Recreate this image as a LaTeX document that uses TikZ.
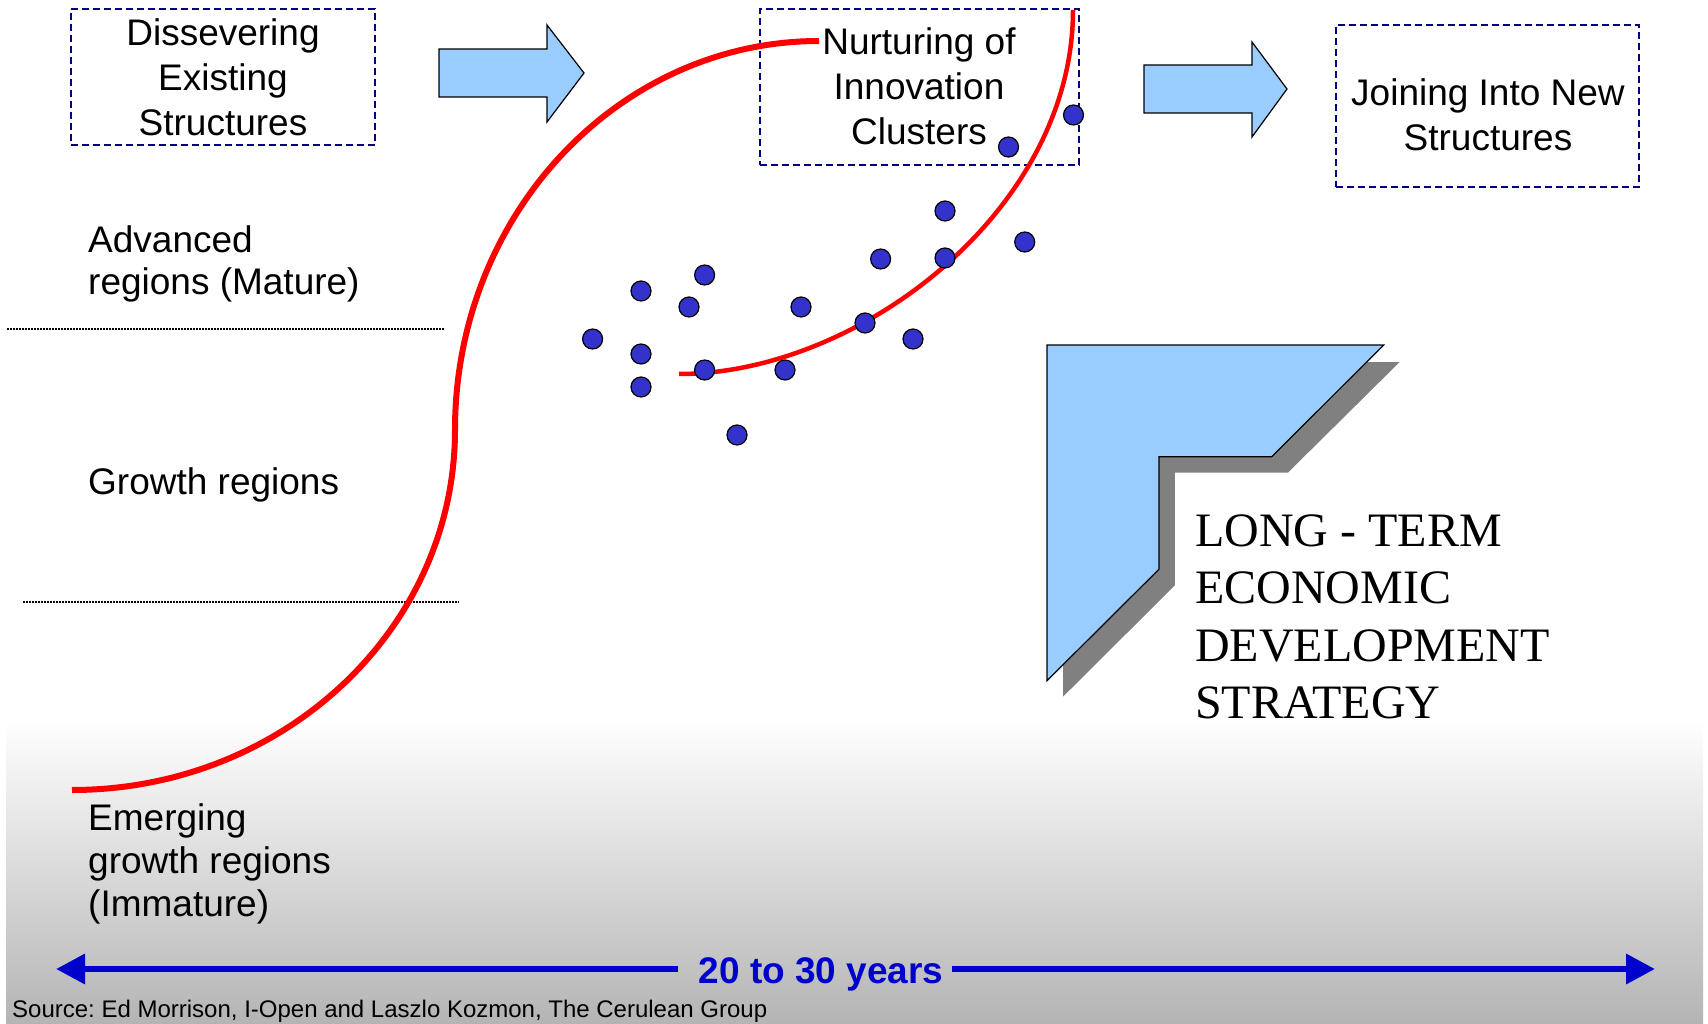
\documentclass[tikz,border=0pt]{standalone}
\usepackage{fontspec}
\setmainfont{Liberation Sans}
\newfontfamily\timesf{Liberation Serif}
\usetikzlibrary{arrows.meta}
\frenchspacing
\definecolor{lblue}{HTML}{99CCFF}
\definecolor{dotblue}{HTML}{3333CC}
\definecolor{navyc}{HTML}{000080}
\definecolor{shadowg}{HTML}{808080}
\definecolor{arrblue}{HTML}{0000CC}
\definecolor{bggray}{HTML}{B4B4B4}
\begin{document}
\begin{tikzpicture}[x=1pt,y=-1pt,
  dashbox/.style={draw=navyc, line width=2, dash pattern=on 7pt off 4pt, inner sep=0},
  lbl/.style={font=\fontsize{37}{45}\selectfont, inner sep=0, align=center},
  lbll/.style={font=\fontsize{37}{43}\selectfont, inner sep=0, align=left, anchor=base west},
  blockarrow/.style={fill=lblue, draw=black, line width=1.2},
  dot/.style={circle, fill=dotblue, draw=black, line width=1.2, minimum size=20, inner sep=0},
  sepline/.style={line width=1.5, dash pattern=on 1.5pt off 1.5pt},
  redS/.style={draw=red, line width=6},
  redA/.style={draw=red, line width=4.5},
  yrsline/.style={draw=arrblue, line width=6.5},
]
\useasboundingbox (0,0) rectangle (1708,1024);
% background gradient
\shade[top color=white, bottom color=bggray] (6,720) rectangle (1703,1024);

% separator lines
\draw[sepline] (7,329) -- (444,329);
\draw[sepline] (23,602) -- (459,602);

% dashed boxes
\node[dashbox, minimum width=304, minimum height=136] (box1) at (223,77) {};
\node[dashbox, minimum width=319, minimum height=156] (box2) at (919.5,87) {};
\node[dashbox, minimum width=303, minimum height=162] (box3) at (1487.5,106) {};

% multi-line nodes: base anchor = baseline of last line
\node[lbl, anchor=base] (t1) at (223,136) {Dissevering\\Existing\\Structures};
\node[lbl, anchor=base] (t2) at (919,145) {Nurturing of\\Innovation\\Clusters};
\node[lbl, anchor=base] (t3) at (1488,151) {Joining Into New\\Structures};

% block arrows
\draw[blockarrow] (439,49) -- (547,49) -- (547,25) -- (584,73) -- (547,122) -- (547,97) -- (439,97) -- cycle;
\draw[blockarrow] (1144,65) -- (1252,65) -- (1252,42) -- (1287,89) -- (1252,137) -- (1252,113) -- (1144,113) -- cycle;

% left labels
\node[lbll] (adv) at (88,295) {Advanced\\regions (Mature)};
\node[lbll] (gro) at (88,494) {Growth regions};
\node[lbll] (emg) at (88,916) {Emerging\\growth regions\\(Immature)};

% red curves
\draw[redS] (72,790) .. controls (283.5,790) and (455,628.8) .. (455,430)
             .. controls (455,215.2) and (618,41) .. (819,41);
\draw[redA] (679,374) .. controls (859,374) and (1073,210) .. (1073,10);

% dots
\foreach \px/\py [count=\i] in {1073.5/115, 1008.5/147, 945/211, 1024.7/242, 880.6/259,
  945/258, 704.6/275, 641/291, 689/307, 801/307, 865/323, 913/339, 592.6/339,
  641/354, 704.6/370, 785/370, 641/387, 737/435}
  \node[dot] (d\i) at (\px,\py) {};

% long-term shape with shadow
\fill[shadowg] (1063,362) -- (1399.7,362) -- (1287.8,472.7) -- (1174.9,472.7)
  -- (1174.9,585.3) -- (1063,696.7) -- cycle;
\draw[fill=lblue, draw=black, line width=1.2] (1047,345) -- (1383.7,345) -- (1271.8,456.7)
  -- (1158.9,456.7) -- (1158.9,569.3) -- (1047,680.7) -- cycle;
\node[font=\timesf\fontsize{48}{57.5}\selectfont, inner sep=0, align=left, anchor=base west]
  (strat) at (1195,718.5) {LONG - TERM\\ECONOMIC\\DEVELOPMENT\\STRATEGY};

% time arrow
\coordinate (tipL) at (56,969);
\coordinate (tipR) at (1655,969);
\node[font=\bfseries\fontsize{37}{40}\selectfont, text=arrblue, inner ysep=0, inner xsep=8, anchor=base]
  (yrs) at (821,983) {20 to 30 years};
\draw[yrsline, {Triangle[length=29, width=29]}-, shorten >=12pt] (tipL) -- (tipL -| yrs.west);
\draw[yrsline, -{Triangle[length=29, width=29]}] (tipR -| yrs.east) -- (tipR);

% source
\node[font=\fontsize{24}{27}\selectfont, inner sep=0, anchor=base west] (src) at (12,1017)
  {Source: Ed Morrison, I-Open and Laszlo Kozmon, The Cerulean Group};
\end{tikzpicture}
\end{document}
